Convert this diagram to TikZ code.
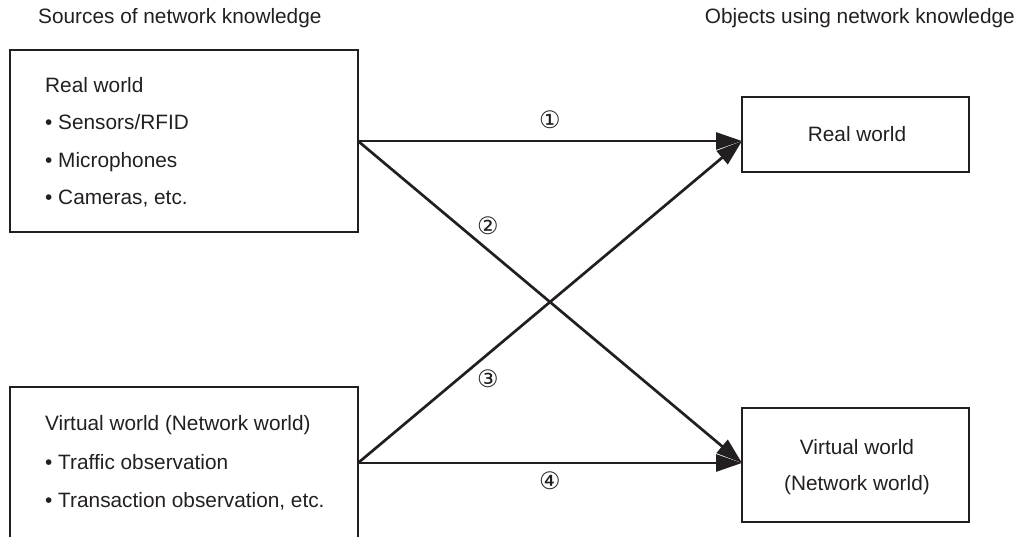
\documentclass[tikz,border=0pt]{standalone}
\usepackage{fontspec}
\setmainfont{Liberation Sans}
\newfontfamily\circfont{DejaVu Sans}
\usetikzlibrary{arrows.meta}
\definecolor{ink}{RGB}{35,31,32}
\begin{document}
\begin{tikzpicture}[x=1pt,y=-1pt,
  box/.style={draw=ink, line width=2.6pt, inner sep=0pt, outer sep=0pt},
  txt/.style={text=ink, inner sep=0pt, font=\fontsize{20.8}{24}\selectfont},
  lbl/.style={text=ink, inner sep=0pt, font=\circfont\fontsize{24}{26}\selectfont},
  arr/.style={draw=ink, line width=2.7pt, -{Triangle[length=26pt,width=17pt]}}]
\useasboundingbox (0,0) rectangle (1018,537);
% headers
\node[txt, anchor=base west] (h1) at (38,24) {Sources of network knowledge};
\node[txt, anchor=base east] (h2) at (1015,24) {Objects using network knowledge};
% source boxes
\node[box, minimum width=348pt, minimum height=182pt] (srcR) at (184,141) {};
\node[box, minimum width=348pt, minimum height=152pt] (srcV) at (184,463) {};
\node[txt, anchor=base west] (r0) at (45,93) {Real world};
\node[txt, anchor=base west] (r1) at (45,130) {• Sensors/RFID};
\node[txt, anchor=base west] (r2) at (45,168) {• Microphones};
\node[txt, anchor=base west] (r3) at (45,205) {• Cameras, etc.};
\node[txt, anchor=base west] (v0) at (45,430) {Virtual world (Network world)};
\node[txt, anchor=base west] (v1) at (45,469) {• Traffic observation};
\node[txt, anchor=base west] (v2) at (45,507) {• Transaction observation, etc.};
% target boxes
\node[box, minimum width=227pt, minimum height=75pt] (tgtR) at (855.5,134.5) {};
\node[box, minimum width=227pt, minimum height=114pt] (tgtV) at (855.5,465) {};
\node[txt, anchor=base] (tr) at (857,142) {Real world};
\node[txt, anchor=base] (tv1) at (857,454) {Virtual world};
\node[txt, anchor=base] (tv2) at (857,490) {(Network world)};
% arrows
\draw[arr] (srcR.east) -- (tgtR.west |- srcR.east);
\draw[arr] (srcR.east) -- (tgtV.west |- srcV.east);
\draw[arr] (srcV.east) -- (tgtR.west |- srcR.east);
\draw[arr] (srcV.east) -- (tgtV.west |- srcV.east);
% labels
\node[lbl] (n1) at (550,120) {①};
\node[lbl] (n2) at (488,226) {②};
\node[lbl] (n3) at (488,379) {③};
\node[lbl] (n4) at (550,481) {④};
\end{tikzpicture}
\end{document}
